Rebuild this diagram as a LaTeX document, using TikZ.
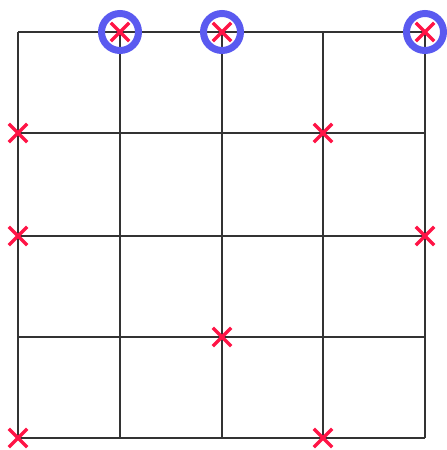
\documentclass[tikz,border=0pt]{standalone}
\usetikzlibrary{shapes.misc}
\definecolor{xred}{RGB}{255,20,70}
\definecolor{ringblue}{RGB}{90,90,240}
\begin{document}
\begin{tikzpicture}[x=1pt,y=-1pt,
  gridline/.style={draw=black!80,line width=1.6pt},
  xmark/.style={cross out,draw=xred,line width=3.3pt,minimum size=15pt,inner sep=0pt},
  ring/.style={circle,draw=ringblue,line width=7pt,minimum size=37pt,inner sep=0pt}]
\useasboundingbox (0,0) rectangle (447,450);
\foreach \i/\x in {0/18,1/120,2/222,3/323,4/425}{
  \foreach \j/\y in {0/32,1/133,2/236,3/337,4/438}{
    \coordinate (p\i\j) at (\x,\y);
  }
}
\foreach \i in {0,...,4}{
  \draw[gridline] (p\i0) -- (p\i4);
  \draw[gridline] (p0\i) -- (p4\i);
}
\foreach \p in {p10,p20,p40}{
  \node[ring] (r\p) at (\p) {};
}
\foreach \p in {p10,p20,p40,p01,p31,p02,p42,p23,p04,p34}{
  \node[xmark] (x\p) at (\p) {};
}
\end{tikzpicture}
\end{document}
